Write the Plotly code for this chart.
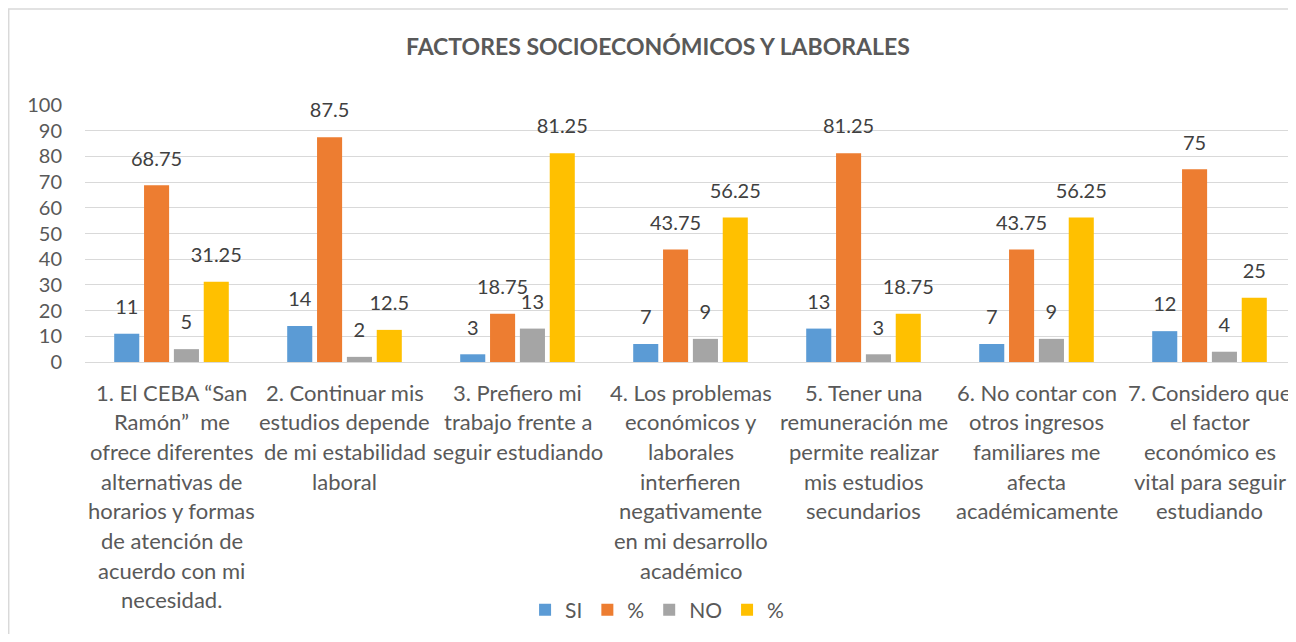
import plotly.graph_objects as go

categories = [
    "1. El CEBA “San<br>Ramón”  me<br>ofrece diferentes<br>alternativas de<br>horarios y formas<br>de atención de<br>acuerdo con mi<br>necesidad.",
    "2. Continuar mis<br>estudios depende<br>de mi estabilidad<br>laboral",
    "3. Prefiero mi<br>trabajo frente a<br>seguir estudiando",
    "4. Los problemas<br>económicos y<br>laborales<br>interfieren<br>negativamente<br>en mi desarrollo<br>académico",
    "5. Tener una<br>remuneración me<br>permite realizar<br>mis estudios<br>secundarios",
    "6. No contar con<br>otros ingresos<br>familiares me<br>afecta<br>académicamente",
    "7. Considero que<br>el factor<br>económico es<br>vital para seguir<br>estudiando",
]
si_vals = [11, 14, 3, 7, 13, 7, 12]
si_pct = [68.75, 87.5, 18.75, 43.75, 81.25, 43.75, 75]
no_vals = [5, 2, 13, 9, 3, 9, 4]
no_pct = [31.25, 12.5, 81.25, 56.25, 18.75, 56.25, 25]
series_names = ["SI", "%", "NO", "%"]
colors = ["#5B9BD5", "#ED7D31", "#A5A5A5", "#FFC000"]

FONT = "Lato, 'Open Sans', sans-serif"
x_idx = list(range(len(categories)))
BARGAP = 0.31

fig = go.Figure()
all_series = [si_vals, si_pct, no_vals, no_pct]
for name, vals, col in zip(series_names, all_series, colors):
    fig.add_trace(go.Bar(
        x=x_idx, y=vals, name=name,
        marker=dict(color=col, line=dict(width=0)),
        hoverinfo="skip",
    ))
# data labels, grouped like the bars
for name, vals in zip(series_names, all_series):
    fig.add_trace(go.Scatter(
        x=x_idx, y=vals, mode="markers+text", orientation="v",
        text=[f"{v:g}" for v in vals], textposition="top center",
        textfont=dict(size=20, color="#404040", family=FONT),
        marker=dict(size=22, opacity=0),
        showlegend=False, hoverinfo="skip", cliponaxis=False,
    ))

# category labels, one annotation per line for Office-like line spacing
annotations = []
for i, cat in enumerate(categories):
    for k, line in enumerate(cat.split("<br>")):
        annotations.append(dict(
            x=i, xref="x", y=0, yref="y", text=line, showarrow=False,
            xanchor="center", yanchor="middle", yshift=-(30 + k * 29.7),
            font=dict(size=22, color="#595959", family=FONT),
        ))

W, H = 1288, 626
fig.update_layout(
    width=W, height=H,
    barmode="group", bargap=BARGAP, bargroupgap=0.16,
    scattermode="group", scattergap=BARGAP,
    paper_bgcolor="white", plot_bgcolor="white",
    margin=dict(l=77, r=0, t=97, b=H - 354),
    font=dict(family=FONT, color="#595959", size=18),
    title=dict(
        text="<b>FACTORES SOCIOECONÓMICOS Y LABORALES</b>",
        x=0.5046, xanchor="center", y=1 - 39 / H, yanchor="middle",
        font=dict(size=23, color="#595959", family=FONT),
    ),
    showlegend=True,
    legend=dict(
        orientation="h", x=0.4724, xanchor="center", y=-0.965, yanchor="middle",
        font=dict(size=21, color="#595959", family=FONT),
        itemwidth=30, traceorder="normal",
    ),
    xaxis=dict(
        tickmode="array", tickvals=x_idx, showticklabels=False,
        range=[-0.5, len(categories) - 0.5],
        showgrid=False, showline=True, linecolor="#D9D9D9", linewidth=1,
        ticks="",
    ),
    yaxis=dict(
        range=[0, 100], dtick=10, tick0=0,
        showgrid=True, gridcolor="#D9D9D9", gridwidth=1,
        zeroline=False, showline=False, ticks="",
        tickfont=dict(size=20, color="#595959", family=FONT),
        ticklabelstandoff=22,
    ),
    annotations=annotations,
    shapes=[dict(
        type="rect", xref="paper", yref="paper",
        x0=-0.0630, x1=1.05, y0=-2.0, y1=1.3735,
        line=dict(color="#D9D9D9", width=1.5), fillcolor="rgba(0,0,0,0)",
        layer="below",
    )],
)

fig.write_html("out.html")
